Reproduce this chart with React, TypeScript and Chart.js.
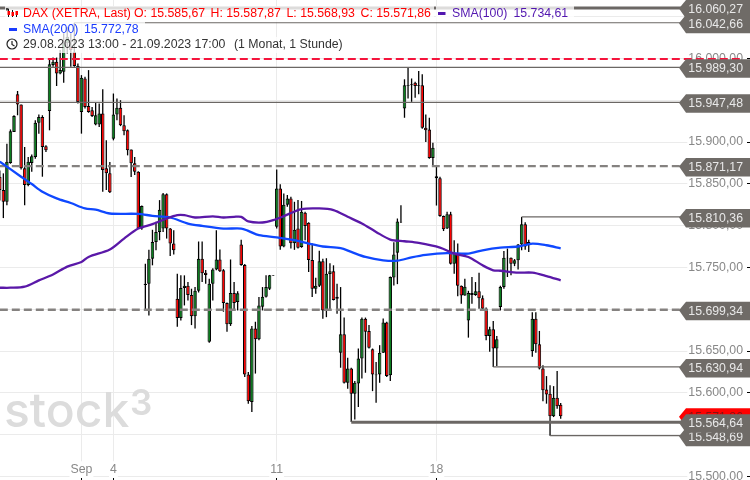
import React, { useEffect, useRef } from "react";
import { Chart, registerables } from "chart.js";

Chart.register(...registerables);

const opens = [
  15858.5, 15842.5, 15828.5, 15875, 15912, 15957, 15945, 15868.5, 15848.5, 15875,
  15882, 15923, 15930, 15895, 15937, 15992, 15996, 15982, 15984, 16018,
  16014, 16008, 15991, 15936, 15976, 15943, 15938, 15921, 15921, 15934,
  15868.5, 15862.5, 15904, 15933, 15941, 15920, 15914, 15891, 15874.5, 15864.5,
  15796.5, 15730.5, 15730.5, 15760.5, 15780.5, 15792.5, 15796.5, 15837.5, 15796.5, 15778.5,
  15712.5, 15689.5, 15725.5, 15728, 15717, 15691.5, 15722, 15760.5, 15743.5, 15661,
  15730.5, 15747.5, 15759.5, 15746.5, 15707.5, 15682, 15719.5, 15708.5, 15777.5, 15753,
  15622, 15589, 15677, 15664, 15703, 15715, 15724.5, 15740.5, 15798.5, 15844.5,
  15775, 15825, 15832.5, 15779, 15796.5, 15774.5, 15815.5, 15803.5, 15759, 15724.5,
  15728, 15757.5, 15698.5, 15742, 15745.5, 15712.5, 15648, 15670, 15612, 15629,
  15599, 15611, 15641, 15688.5, 15674, 15652, 15622, 15622, 15648, 15684,
  15621, 15738, 15767.5, 15804.5, 15940, 15968, 15969, 15971, 15968, 15968,
  15917, 15915, 15881, 15859, 15856.5, 15811.5, 15796.5, 15813.5, 15754.5, 15766.5,
  15728, 15716.5, 15686.5, 15719.5, 15717, 15721.5, 15713, 15700.5, 15668, 15676,
  15653, 15702.5, 15726.5, 15761.5, 15761.5, 15754.5, 15758.5, 15777.5, 15801.5, 15776.5,
  15650, 15688.5, 15658, 15629, 15604, 15599, 15572, 15594, 15585.67,
];
const highs = [
  15866, 15862.5, 15898, 15915, 15932, 15961, 15945, 15894, 15882, 15885,
  15926, 15933, 15932, 15896, 16000, 16001, 16001, 16010, 16030, 16038,
  16030, 16042.66, 15994, 15980, 15978, 15986, 15942, 15947, 15946, 15963,
  15902, 15876, 15958, 15952, 15950, 15932, 15915, 15891, 15882, 15865,
  15824, 15754.5, 15771, 15795, 15804.5, 15830.5, 15839, 15838.5, 15797, 15794.5,
  15742.5, 15740.5, 15740.5, 15732.5, 15724.5, 15726.5, 15781, 15781, 15747, 15736.5,
  15749, 15794.5, 15771.5, 15748, 15708, 15759.5, 15732.5, 15721.5, 15783, 15754,
  15625, 15680, 15685, 15714.5, 15726.5, 15740.5, 15741, 15741, 15867, 15849.5,
  15838.5, 15836.5, 15834.5, 15828.5, 15830.5, 15829.5, 15816.5, 15804, 15778.5, 15737.5,
  15770, 15760.5, 15761, 15755, 15752.5, 15730.5, 15726.5, 15690, 15642, 15630,
  15614, 15653, 15690, 15690, 15681, 15653, 15637, 15657, 15689, 15685,
  15739, 15780, 15808.5, 15824.5, 15975, 15989, 15976, 15972, 15985, 15981,
  15933, 15929, 15899, 15870.5, 15858.5, 15812, 15816.5, 15816.5, 15782.5, 15778.5,
  15728.5, 15736.5, 15722, 15738.5, 15732.5, 15743.5, 15716.5, 15702, 15679, 15686,
  15668, 15728, 15769.5, 15772.5, 15762, 15760, 15778, 15810.36, 15804, 15783,
  15696.5, 15696.5, 15674, 15633, 15620, 15609, 15608, 15626, 15587.87,
];
const lows = [
  15830, 15809, 15824.5, 15874, 15912, 15932, 15867, 15824.5, 15847, 15864.5,
  15880, 15910, 15858.5, 15888, 15914, 15990, 15967, 15981, 15971, 16006,
  15990, 15990, 15946, 15910, 15940, 15935, 15930, 15920, 15918, 15840.5,
  15842.5, 15839, 15902, 15926, 15919, 15908, 15884, 15858, 15860.5, 15796,
  15795, 15698.5, 15692.5, 15752.5, 15770.5, 15782.5, 15792.5, 15784.5, 15763.5, 15765.5,
  15679, 15686.5, 15704.5, 15710.5, 15681, 15677, 15720, 15732.5, 15730.5, 15660,
  15710.5, 15746.5, 15744.5, 15697, 15673, 15680, 15698.5, 15698.5, 15752, 15619,
  15587, 15577, 15623, 15663, 15698.5, 15714, 15723, 15740, 15796.5, 15771,
  15774, 15822.5, 15772.5, 15771, 15772.5, 15773.5, 15782.5, 15744.5, 15714.5, 15718.5,
  15726.5, 15688.5, 15690.5, 15698.5, 15710.5, 15694.5, 15630, 15611, 15605, 15565,
  15568, 15583, 15617, 15624, 15653, 15602, 15588, 15612, 15647.5, 15619,
  15614, 15728.5, 15730, 15803, 15929, 15952, 15948, 15953, 15957, 15916,
  15900, 15880, 15870.5, 15824, 15810.5, 15793.5, 15796, 15753.5, 15742.5, 15715.5,
  15706.5, 15716, 15666, 15706.5, 15716, 15700.5, 15700, 15663, 15649, 15631,
  15632, 15698.5, 15724.5, 15738.5, 15740.5, 15751.5, 15747.5, 15770.5, 15771, 15768.5,
  15643, 15648, 15628, 15590, 15587, 15548.69, 15571, 15581, 15568.93,
];
const closes = [
  15842.5, 15828.5, 15876.5, 15913, 15931, 15945, 15868.5, 15848.5, 15876.5, 15883,
  15923, 15930, 15894, 15890, 15993, 15996, 15982, 15986, 16018, 16026,
  16010, 15991, 15948, 15977, 15942, 15936, 15931, 15932, 15934, 15866.5,
  15862.5, 15840, 15933, 15941, 15920, 15913, 15890, 15874.5, 15864.5, 15796.5,
  15823.5, 15729, 15760.5, 15780.5, 15792.5, 15819, 15837.5, 15796.5, 15778.5, 15770.5,
  15689.5, 15725.5, 15728, 15717, 15691.5, 15722, 15760.5, 15743, 15741, 15730.5,
  15747.5, 15759.5, 15745.5, 15707.5, 15682, 15719.5, 15707.5, 15719, 15753, 15622,
  15590, 15677, 15664, 15704.5, 15715, 15726.5, 15740.5, 15740, 15844.5, 15775,
  15825, 15832.5, 15779, 15795, 15773.5, 15816.5, 15799.5, 15759, 15724.5, 15728,
  15757.5, 15698.5, 15742.5, 15745.5, 15711, 15715, 15670, 15612, 15629, 15599,
  15612, 15641, 15688.5, 15673, 15654, 15622, 15621, 15648, 15684, 15620,
  15738.5, 15765.5, 15805, 15804, 15968, 15967, 15968, 15967, 15967, 15917,
  15914, 15881, 15893, 15856.5, 15811.5, 15795.5, 15813.5, 15754.5, 15767.5, 15728,
  15716.5, 15727, 15719.5, 15717, 15721.5, 15713, 15700.5, 15668, 15676, 15653,
  15664, 15726.5, 15761.5, 15761, 15754.5, 15758.5, 15777.5, 15801.5, 15775, 15780.5,
  15688.5, 15658, 15629, 15603, 15598, 15572, 15594, 15584, 15571.86,
];

const sma200Index = [0, 6, 9, 12, 16, 20, 24, 27, 31, 39, 43, 48, 53, 57, 63, 68, 70, 73, 78, 83, 87, 91, 96, 99, 103, 108, 112, 116, 120, 126, 132, 136, 141, 146, 150, 154, 158];
const sma200 = [15876.5, 15858.5, 15849.7, 15840.5, 15832.5, 15827, 15820.5, 15819, 15814.5, 15814, 15811.7, 15809.7, 15802.5, 15799.7, 15796.5, 15796.5, 15793.7, 15788.5, 15786, 15782.5, 15778.5, 15775, 15773, 15768.5, 15762.5, 15758.5, 15758, 15762, 15765, 15767, 15766.5, 15770.5, 15773.7, 15775, 15778.5, 15776.5, 15772.78];
const sma100Index = [0, 3, 7, 11, 15, 19, 23, 25, 31, 35, 39, 43, 47, 50, 52, 55, 60, 63, 66, 68, 70, 74, 77, 80, 85, 90, 94, 98, 102, 106, 110, 114, 118, 124, 128, 132, 136, 139, 141, 146, 150, 154, 158];
const sma100 = [15725.7, 15725.7, 15727, 15734.5, 15741.5, 15751, 15756.5, 15762.5, 15771.5, 15784.5, 15796.5, 15801.7, 15808.5, 15812.5, 15812.5, 15809.7, 15811, 15809.7, 15810.5, 15810.5, 15805, 15803.7, 15806.5, 15811.3, 15819.7, 15820.5, 15818.5, 15810.5, 15802.5, 15792.5, 15783.3, 15781.3, 15779.3, 15773.7, 15766.5, 15762.5, 15752.5, 15746.5, 15746, 15743.7, 15743.7, 15739.7, 15734.61];

const xTickIndex = [23, 32, 78, 123];
const xTickLabels = ["Sep", "4", "11", "18"];
const yTickValues = [15500, 15550, 15600, 15650, 15700, 15750, 15800, 15850, 15900, 15950, 16000, 16050];

const thinLevels = [16042.66, 15989.3, 15947.48, 15810.36, 15630.94, 15548.69];
const thinLevelStarts = [21, 0, 0, 147, 139, 155];
const thickLevels = [16060.27, 15564.64];
const thickLevelStarts = [0, 99];
const dashedLevels = [15871.17, 15699.34];
const alertLevel = 15999.2;
const lastClose = 15571.86;
const tagValues = [16060.27, 16042.66, 15989.3, 15947.48, 15871.17, 15810.36, 15699.34, 15630.94, 15548.69, 15564.64];

const FONT = '"Liberation Sans", Arial, sans-serif';
const FS = "12.3px " + FONT;
const TAG = "#6f6b67";
const LINE_GREY = "#6b6764";
const GRID = "#ebebeb";
const LEVEL_END = 192;

const fmt = (v: number) =>
  v.toLocaleString("de-DE", { minimumFractionDigits: 2, maximumFractionDigits: 2 });

function tag(ctx: CanvasRenderingContext2D, y: number, fill: string, text: string, textColor: string) {
  ctx.beginPath();
  ctx.moveTo(679, y + 0.5);
  ctx.lineTo(686, y - 8);
  ctx.lineTo(750, y - 8);
  ctx.lineTo(750, y + 10.5);
  ctx.lineTo(686, y + 10.5);
  ctx.closePath();
  ctx.fillStyle = fill;
  ctx.fill();
  ctx.fillStyle = textColor;
  ctx.font = FS;
  ctx.textAlign = "right";
  ctx.textBaseline = "middle";
  ctx.fillText(text, 743, y + 1.5);
}

const watermark = {
  id: "watermark",
  beforeDatasetsDraw(chart: any) {
    const { ctx } = chart;
    ctx.save();
    ctx.fillStyle = "#dcdcdc";
    ctx.textAlign = "left";
    ctx.textBaseline = "alphabetic";
    ctx.font = '500 48px Inter, "Open Sans", sans-serif';
    ctx.fillText("stock", 4, 427);
    ctx.font = '600 35px Inter, "Open Sans", sans-serif';
    ctx.fillText("3", 130, 415);
    ctx.restore();
  },
};

const overlays = {
  id: "overlays",
  afterDraw(chart: any) {
    const { ctx } = chart;
    const yS = chart.scales.y;
    ctx.save();
    ctx.fillStyle = "rgba(255,255,255,0.77)";
    ctx.fillRect(5, 6, 429, 16);
    ctx.fillRect(436, 6, 138, 16);
    ctx.fillRect(5, 22, 140, 15);
    ctx.fillRect(5, 37, 340, 16);

    tag(ctx, yS.getPixelForValue(lastClose), "#ff0000", fmt(lastClose), "#8a1010");
    tagValues.forEach((v) => tag(ctx, yS.getPixelForValue(v), TAG, fmt(v), "#e8e8e8"));

    ctx.textAlign = "left";
    ctx.textBaseline = "middle";
    ctx.font = FS;
    const put = (s: string, x: number, y: number, c: string) => {
      ctx.fillStyle = c;
      ctx.fillText(s, x, y);
    };
    const RED = "#ff0000";
    const BLUE = "#1a3cff";
    const PURPLE = "#5216b0";
    put("DAX (XETRA, Last)", 23, 13.5, RED);
    put("O: 15.585,67", 134, 13.5, RED);
    put("H: 15.587,87", 210.5, 13.5, RED);
    put("L: 15.568,93", 286.5, 13.5, RED);
    put("C: 15.571,86", 360.5, 13.5, RED);
    put("SMA(100)", 452, 13.5, PURPLE);
    put("15.734,61", 513.5, 13.5, PURPLE);
    put("SMA(200)", 23, 29.5, BLUE);
    put("15.772,78", 84, 29.5, BLUE);
    put("29.08.2023 13:00 - 21.09.2023 17:00", 23, 45, "#333333");
    put("(1 Monat, 1 Stunde)", 234, 45, "#333333");

    ctx.fillStyle = PURPLE;
    ctx.fillRect(438, 12, 7.5, 3);
    ctx.fillStyle = BLUE;
    ctx.fillRect(9, 28, 8, 3);

    ctx.fillStyle = "#444";
    ctx.fillRect(6, 8, 2.5, 2.5);
    ctx.strokeStyle = "#111";
    ctx.lineWidth = 1;
    [8, 12, 16].forEach((x, k) => {
      ctx.beginPath();
      ctx.moveTo(x + 0.5, 9 + k);
      ctx.lineTo(x + 0.5, 17);
      ctx.stroke();
      ctx.fillStyle = "#ff0000";
      ctx.fillRect(x - 0.5, 11 + (k % 2), 2.5, 4);
    });

    ctx.strokeStyle = "#222";
    ctx.lineWidth = 1.2;
    ctx.beginPath();
    ctx.arc(12, 44, 5, 0, Math.PI * 2);
    ctx.stroke();
    ctx.beginPath();
    ctx.moveTo(12, 41);
    ctx.lineTo(12, 44.5);
    ctx.lineTo(14.5, 46);
    ctx.stroke();
    ctx.restore();
  },
};

const levelLine = (v: number, start: number, end: number, color: string, width: number, dash: number[], order: number) => ({
  type: "line" as const,
  data: [
    { x: start, y: v },
    { x: end, y: v },
  ],
  borderColor: color,
  borderWidth: width,
  borderDash: dash,
  pointRadius: 0,
  tension: 0,
  order,
});

export default function App() {
  const ref = useRef<HTMLCanvasElement | null>(null);
  useEffect(() => {
    document.body.style.margin = "0";
    const idx = opens.map((_, i) => i);
    const chart = new Chart(ref.current as HTMLCanvasElement, {
      type: "bar",
      data: {
        datasets: [
          levelLine(alertLevel, 0, 208.5, "#f5143c", 2, [8, 4], 0),
          {
            type: "line",
            data: sma100Index.map((x, i) => ({ x, y: sma100[i] })),
            borderColor: "#5a18a8",
            borderWidth: 2.3,
            pointRadius: 0,
            tension: 0.3,
            order: 1,
          },
          {
            type: "line",
            data: sma200Index.map((x, i) => ({ x, y: sma200[i] })),
            borderColor: "#0f48ff",
            borderWidth: 2.3,
            pointRadius: 0,
            tension: 0.3,
            order: 2,
          },
          ...thinLevels.map((v, i) => levelLine(v, thinLevelStarts[i], LEVEL_END, LINE_GREY, 1.2, [], 3)),
          ...thickLevels.map((v, i) => levelLine(v, thickLevelStarts[i], LEVEL_END, LINE_GREY, 3, [], 3)),
          ...dashedLevels.map((v) => levelLine(v, 0, LEVEL_END, "#858280", 2.4, [8, 4], 3)),
          {
            type: "bar",
            data: idx.map((i) => ({ x: i, y: [opens[i], closes[i]] })),
            backgroundColor: idx.map((i) => (closes[i] < opens[i] ? "#ff0000" : "#0a7d1e")),
            borderColor: "#000000",
            borderWidth: 1,
            borderSkipped: false,
            barThickness: 3.5,
            grouped: false,
            inflateAmount: 0,
            order: 4,
          },
          {
            type: "bar",
            data: idx.map((i) => ({ x: i, y: [lows[i], highs[i]] })),
            backgroundColor: "#000000",
            borderWidth: 0,
            barThickness: 1.3,
            grouped: false,
            inflateAmount: 0,
            order: 5,
          },
        ] as any,
      },
      options: {
        responsive: false,
        animation: false,
        events: [],
        layout: { padding: 0 },
        plugins: { legend: { display: false }, tooltip: { enabled: false }, title: { display: false } },
        scales: {
          x: {
            type: "linear",
            offset: false,
            min: 0.056,
            max: 210.2,
            bounds: "data",
            afterFit(s: any) {
              s.height = 3;
              s.paddingLeft = 0;
              s.paddingRight = 0;
            },
            afterTickToLabelConversion(s: any) {
              s.ticks = xTickIndex.map((value, i) => ({ value, label: xTickLabels[i] }));
            },
            grid: { offset: false, color: GRID, tickColor: "#000", tickLength: 3, drawOnChartArea: true },
            border: { display: false },
            ticks: {
              autoSkip: false,
              maxRotation: 0,
              mirror: true,
              padding: 0,
              color: "#888888",
              font: { family: FONT, size: 12.3 },
              showLabelBackdrop: true,
              backdropColor: "#ffffff",
              backdropPadding: 1,
            },
          },
          y: {
            type: "linear",
            position: "right",
            min: 15499.3,
            max: 16069.86,
            bounds: "data",
            afterFit(s: any) {
              s.width = 4;
              s.paddingTop = 0;
              s.paddingBottom = 0;
            },
            afterTickToLabelConversion(s: any) {
              s.ticks = yTickValues.map((value) => ({ value, label: fmt(value) }));
            },
            grid: { color: GRID, tickColor: "#000", tickLength: 4 },
            border: { display: false },
            ticks: {
              mirror: true,
              padding: -3,
              color: "#888888",
              font: { family: FONT, size: 12.3 },
              showLabelBackdrop: true,
              backdropColor: "#ffffff",
              backdropPadding: { left: 1, right: 4, top: 0, bottom: 0 },
            },
          },
        },
      },
      plugins: [watermark, overlays],
    } as any);
    return () => chart.destroy();
  }, []);
  return <canvas ref={ref} width={750} height={480} style={{ display: "block" }} />;
}
